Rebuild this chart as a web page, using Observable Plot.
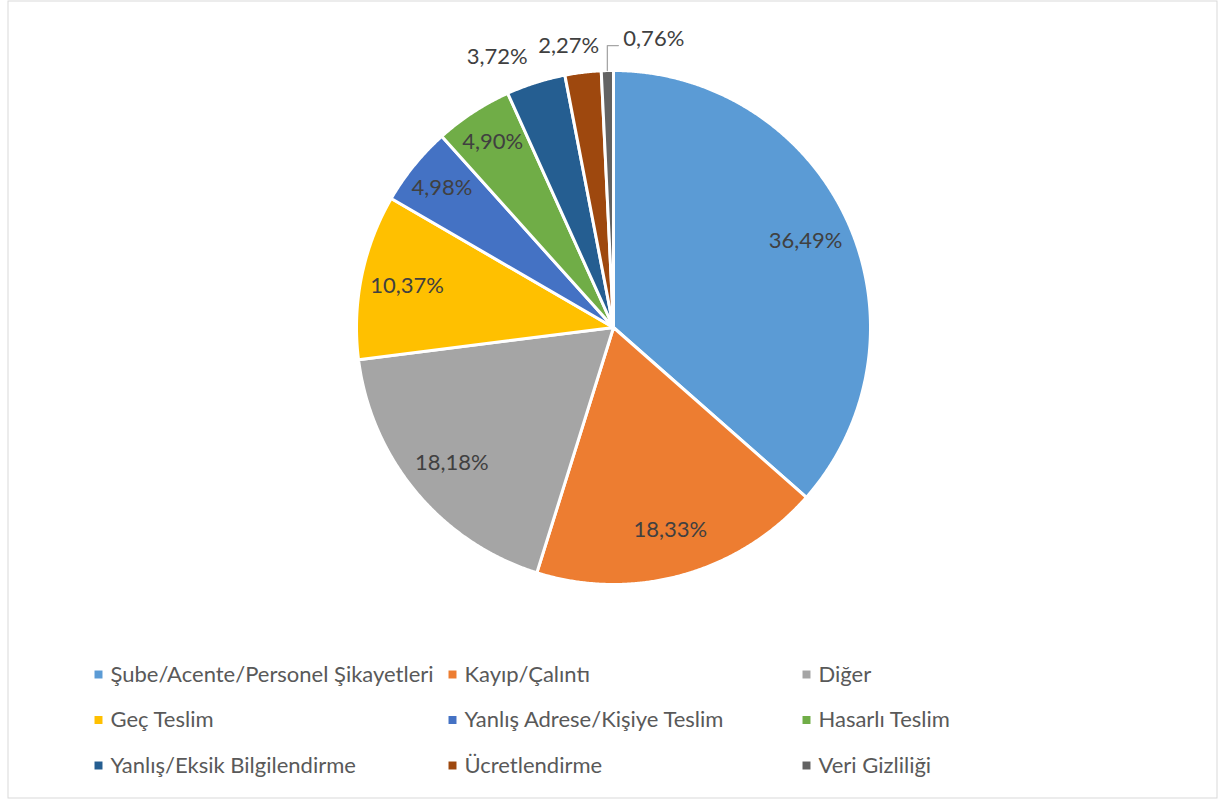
<!DOCTYPE html>
<html><head><meta charset="utf-8">
<script src="https://cdn.jsdelivr.net/npm/d3@7"></script>
<script src="https://cdn.jsdelivr.net/npm/@observablehq/plot@0.6"></script>
<style>body{margin:0;background:#fff}svg{display:block}</style>
</head><body><div id="chart"></div>
<script>
// ---- data ----
const categories = ["Şube/Acente/Personel Şikayetleri","Kayıp/Çalıntı","Diğer","Geç Teslim","Yanlış Adrese/Kişiye Teslim","Hasarlı Teslim","Yanlış/Eksik Bilgilendirme","Ücretlendirme","Veri Gizliliği"];
const values = [36.49, 18.33, 18.18, 10.37, 4.98, 4.90, 3.72, 2.27, 0.76];
const colors = ["#5B9BD5","#ED7D31","#A5A5A5","#FFC000","#4472C4","#70AD47","#255E91","#9E480E","#636363"];

// ---- layout ----
const W = 1218, H = 799;
const cx = 613, cy = 327, R = 257;
const data = categories.map((name, i) => ({name, value: values[i], label: values[i].toFixed(2).replace(".", ",") + "%"}));
const arcs = d3.pie().sort(null).value(d => d.value)(data);
const px = (a, r) => cx + r * Math.sin(a);
const py = (a, r) => cy - r * Math.cos(a);

const slicePts = [];
arcs.forEach(a => {
  const n = Math.max(2, Math.ceil((a.endAngle - a.startAngle) / 0.005));
  slicePts.push({name: a.data.name, x: cx, y: cy});
  for (let k = 0; k <= n; k++) {
    const t = a.startAngle + (a.endAngle - a.startAngle) * k / n;
    slicePts.push({name: a.data.name, x: px(t, R), y: py(t, R)});
  }
  slicePts.push({name: a.data.name, x: cx, y: cy});
});

const inside = [], outEnd = [], outMid = [], outStart = [], leader = [];
arcs.forEach(a => {
  const m = (a.startAngle + a.endAngle) / 2, v = a.data.value;
  if (v >= 6) inside.push({label: a.data.label, x: px(m, R * 0.82), y: py(m, R * 0.82)});
  else if (v >= 4) inside.push({label: a.data.label, x: px(m, R * 0.86), y: py(m, R * 0.86)});
  else if (v >= 1) {
    const r = R + 27;
    (Math.sin(m) < -0.3 ? outEnd : outMid).push({label: a.data.label, x: px(m, r), y: py(m, r)});
  } else {
    const ex = px(m, R), ey = py(m, R);
    leader.push({x: ex, y: ey}, {x: ex, y: ey - 25}, {x: ex + 11, y: ey - 25});
    outStart.push({label: a.data.label, x: ex + 16, y: ey - 32});
  }
});

const legend = data.map((d, i) => ({name: d.name, x: 98 + (i % 3) * 354, y: 674 + Math.floor(i / 3) * 45.5}));

const txt = {x: "x", y: "y", text: "label", fill: "#404040", fontSize: 22};
const chart = Plot.plot({
  width: W, height: H,
  margin: 0,
  x: {domain: [0, W], range: [0, W], axis: null},
  y: {domain: [0, H], range: [0, H], axis: null},
  color: {type: "ordinal", domain: categories, range: colors},
  style: {fontFamily: "Lato, 'Open Sans', sans-serif", fontSize: "22px", background: "#fff"},
  marks: [
    Plot.frame({stroke: "#d9d9d9", insetLeft: 7.5, insetRight: 1.5, insetTop: 0.5, insetBottom: 1.5}),
    Plot.line(slicePts, {x: "x", y: "y", z: "name", fill: "name", stroke: "white", strokeWidth: 3, strokeLinejoin: "round", curve: "linear"}),
    Plot.text(inside, txt),
    Plot.line(leader, {x: "x", y: "y", stroke: "#a6a6a6", strokeWidth: 1.3}),
    Plot.text(outEnd, {...txt, textAnchor: "end"}),
    Plot.text(outMid, {...txt, textAnchor: "middle", dx: -11}),
    Plot.text(outStart, {...txt, textAnchor: "start"}),
    Plot.dot(legend, {x: "x", y: "y", fill: "name", symbol: "square", r: 4.5, stroke: null}),
    Plot.text(legend, {x: "x", y: "y", dx: 12, text: "name", textAnchor: "start", fill: "#595959", fontSize: 22})
  ]
});
document.getElementById("chart").append(chart);
</script></body></html>
